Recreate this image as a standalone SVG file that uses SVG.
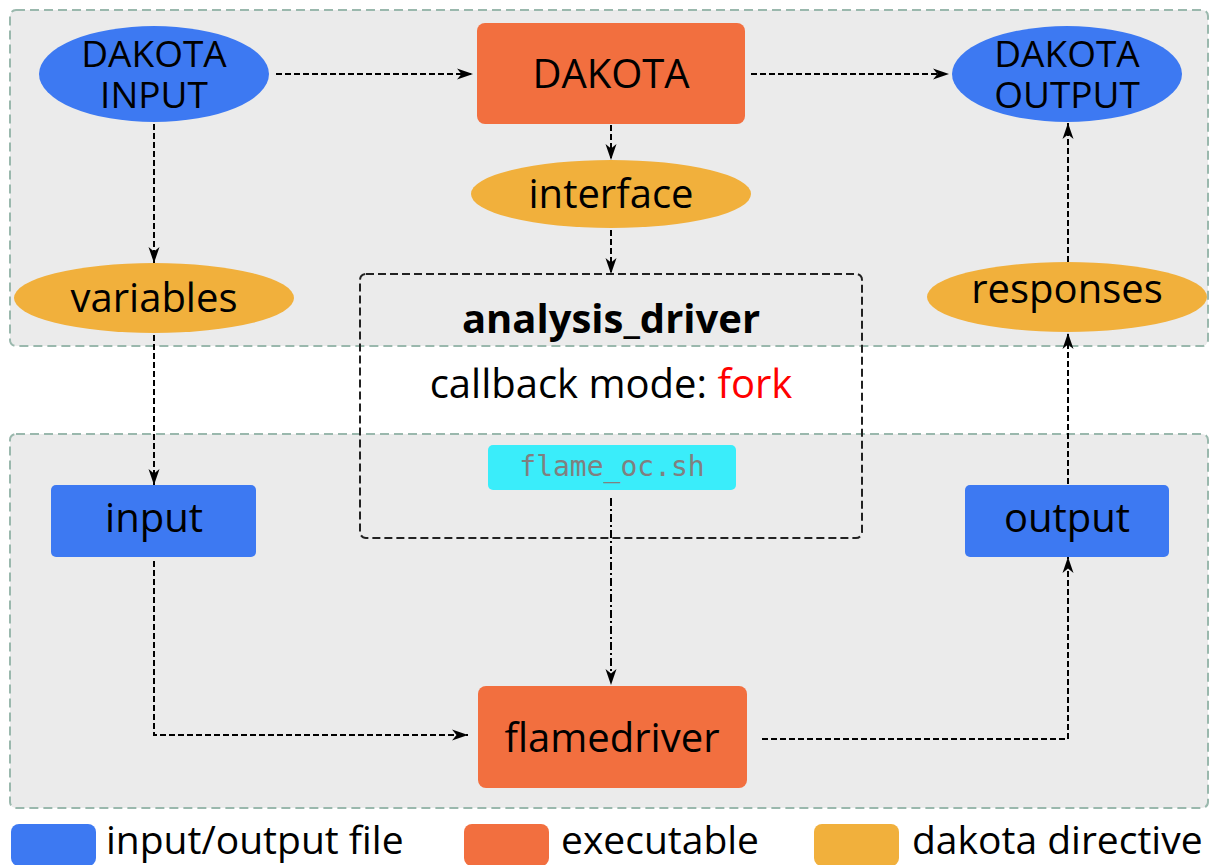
<svg xmlns="http://www.w3.org/2000/svg" width="1222" height="865" viewBox="0 0 1222 865">
<style>
text{font-family:"Open Sans","Noto Sans","DejaVu Sans",sans-serif;fill:#000;text-anchor:middle}
.t{font-size:40px}
.cl{fill:#ebebeb;stroke:#9ab8ad;stroke-width:2;stroke-dasharray:9,5}
.blue{fill:#3d79f2}
.orange{fill:#f26f3f}
.yellow{fill:#f1b03c}
.e{fill:none;stroke:#000;stroke-width:2;stroke-dasharray:6,3}
.dd{fill:none;stroke:#000;stroke-width:2;stroke-dasharray:8,3,2,3}
.leg{font-size:39px;text-anchor:start}
.two{font-size:37px}
</style>
<defs>
<marker id="a" markerUnits="userSpaceOnUse" markerWidth="18" markerHeight="14" refX="16" refY="7" orient="auto">
<path d="M0,1.5 L16,7 L0,12.5 L4.5,7 z" fill="#000"/>
</marker>
</defs>
<g id="clusters">
<rect class="cl" x="10" y="10" width="1198" height="336" rx="6"/>
<rect class="cl" x="10" y="434" width="1198" height="374" rx="6"/>
</g>
<g id="analysis_driver">
<rect x="360" y="274" width="502" height="264" rx="6" fill="none" stroke="#222" stroke-width="2" stroke-dasharray="8,4"/>
<text x="611" y="333" style="font-size:40px;font-weight:bold">analysis_driver</text>
<text x="611" y="398" style="font-size:40px">callback mode: <tspan style="fill:#ff0000">fork</tspan></text>
</g>
<g id="flame_oc">
<rect x="488" y="445" width="248" height="45" rx="5" fill="#3aedfa"/>
<text x="612" y="476" style="font-family:'DejaVu Sans Mono','Liberation Mono',monospace;font-size:28px;fill:#808080">flame_oc.sh</text>
</g>
<g id="connectors">
<line class="e" x1="276" y1="74" x2="473" y2="74" marker-end="url(#a)"/>
<line class="e" x1="751" y1="74" x2="949" y2="74" marker-end="url(#a)"/>
<line class="e" x1="154" y1="124" x2="154" y2="263" marker-end="url(#a)"/>
<line class="e" x1="611" y1="125" x2="611" y2="160" marker-end="url(#a)"/>
<line class="e" x1="611" y1="230" x2="611" y2="274" marker-end="url(#a)"/>
<line class="e" x1="154" y1="335" x2="154" y2="485" marker-end="url(#a)"/>
<polyline class="e" points="154,561 154,735 468,735" marker-end="url(#a)"/>
<line class="dd" x1="611" y1="498" x2="611" y2="685" marker-end="url(#a)"/>
<polyline class="e" points="762,739 1068,739 1068,557" marker-end="url(#a)"/>
<line class="e" x1="1068" y1="484" x2="1068" y2="333" marker-end="url(#a)"/>
<line class="e" x1="1068" y1="262" x2="1068" y2="123" marker-end="url(#a)"/>
</g>
<g id="dakota_input">
<ellipse class="blue" cx="154" cy="74" rx="115" ry="48"/>
<text x="154" y="67" class="two">DAKOTA</text>
<text x="154" y="108" class="two">INPUT</text>
</g>
<g id="dakota">
<rect class="orange" x="477" y="23" width="268" height="101" rx="8"/>
<text x="611" y="88" class="t">DAKOTA</text>
</g>
<g id="dakota_output">
<ellipse class="blue" cx="1067" cy="74" rx="115" ry="48"/>
<text x="1067" y="67" class="two">DAKOTA</text>
<text x="1067" y="108" class="two">OUTPUT</text>
</g>
<g id="interface">
<ellipse class="yellow" cx="611" cy="194" rx="140" ry="34"/>
<text x="611" y="208" class="t">interface</text>
</g>
<g id="variables">
<ellipse class="yellow" cx="154" cy="298" rx="140" ry="35"/>
<text x="154" y="312" class="t">variables</text>
</g>
<g id="responses">
<ellipse class="yellow" cx="1067" cy="297" rx="140" ry="35"/>
<text x="1067" y="303" class="t">responses</text>
</g>
<g id="input">
<rect class="blue" x="51" y="485" width="205" height="72" rx="5"/>
<text x="154" y="532" class="t">input</text>
</g>
<g id="output">
<rect class="blue" x="965" y="485" width="204" height="72" rx="5"/>
<text x="1067" y="532" class="t">output</text>
</g>
<g id="flamedriver">
<rect class="orange" x="478" y="686" width="269" height="102" rx="8"/>
<text x="612" y="752" class="t">flamedriver</text>
</g>
<g id="legend">
<rect class="blue" x="11" y="824" width="85" height="42" rx="8"/>
<text x="106" y="854" class="leg">input/output file</text>
<rect class="orange" x="464" y="824" width="85" height="42" rx="8"/>
<text x="561" y="854" class="leg">executable</text>
<rect class="yellow" x="814" y="824" width="85" height="42" rx="8"/>
<text x="912" y="854" class="leg">dakota directive</text>
</g>
</svg>
